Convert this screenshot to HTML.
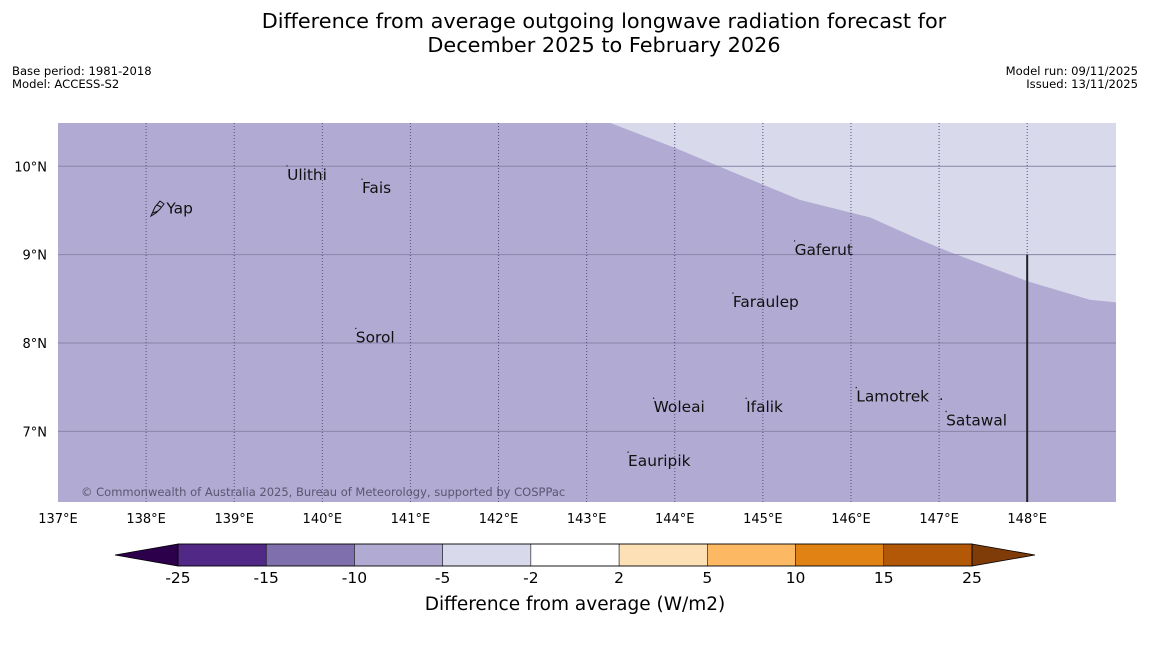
<!DOCTYPE html>
<html><head><meta charset="utf-8"><style>
body{margin:0;background:#fff;width:1150px;height:644px;overflow:hidden;font-family:"DejaVu Sans","Liberation Sans",sans-serif}
svg text{font-family:"DejaVu Sans","Liberation Sans",sans-serif}
</style></head><body>
<svg id="s" width="1150" height="644">
<text x="604" y="28" font-size="20.8" text-anchor="middle">Difference from average outgoing longwave radiation forecast for</text>
<text x="604" y="52" font-size="20.8" text-anchor="middle">December 2025 to February 2026</text>
<text x="12" y="75" font-size="11.6">Base period: 1981-2018</text>
<text x="12" y="88" font-size="11.6">Model: ACCESS-S2</text>
<text x="1138" y="75" font-size="11.6" text-anchor="end">Model run: 09/11/2025</text>
<text x="1138" y="88" font-size="11.6" text-anchor="end">Issued: 13/11/2025</text>
<g id="map"></g>
<g id="cb"></g>
</svg>
<script>
const lonTicks=[137,138,139,140,141,142,143,144,145,146,147,148];
const latTicks=[7,8,9,10];
const placeNames=["Yap","Ulithi","Fais","Gaferut","Faraulep","Sorol","Lamotrek","Woleai","Ifalik","Satawal","Eauripik"];
const placeLon=[138.23,139.6,140.45,145.36,144.66,140.38,146.06,143.76,144.81,147.08,143.47];
const placeLat=[9.5,9.88,9.73,9.03,8.44,8.04,7.37,7.25,7.25,7.1,6.64];
const boundaryLon=[143.27,144.0,144.74,145.42,146.22,146.78,147.12,148.03,148.71,149.01];
const boundaryLat=[10.49,10.21,9.9,9.62,9.42,9.17,9.03,8.69,8.49,8.46];
const cbLevels=["-25","-15","-10","-5","-2","2","5","10","15","25"];
const cbColors=["#522886","#7f6fac","#b1aad2","#d8d9eb","#ffffff","#fee0b6","#fcb863","#e08214","#b35806"];
const NS="http://www.w3.org/2000/svg";
const X0=58,X1=1116,Y0=123,Y1=502;
const lonMin=137,lonMax=149.008,latMin=6.2,latMax=10.49;
const xS=l=>X0+(l-lonMin)/(lonMax-lonMin)*(X1-X0);
const yS=l=>Y1-(l-latMin)/(latMax-latMin)*(Y1-Y0);
function mk(t,a,p){const e=document.createElementNS(NS,t);for(const k in a)e.setAttribute(k,a[k]);p.appendChild(e);return e;}
const map=document.getElementById('map');
let r=mk('rect',{x:X0,y:Y0,width:X1-X0,height:Y1-Y0,fill:'#b1aad2'},map);


let d='M'+xS(boundaryLon[0])+','+Y0;
boundaryLon.forEach((l,i)=>{d+=' L'+Math.min(X1,xS(l))+','+yS(boundaryLat[i]);});
d+=' L'+X1+','+Y0+' Z';
let pz=mk('path',{d:d,fill:'#d8d9eb'},map);


latTicks.forEach(l=>{
 const y=yS(l);
 let g=mk('line',{x1:X0,x2:X1,y1:y,y2:y,stroke:'#8a84a8','stroke-width':1},map);
 
 
 let t=mk('text',{x:47,y:y+5,'font-size':13,'text-anchor':'end'},map);t.textContent=l+'°N';
 
 
});
lonTicks.forEach(l=>{
 const x=xS(l);
 if(l>137){let g=mk('line',{x1:x,x2:x,y1:Y0,y2:Y1,stroke:'#55507a','stroke-width':1,'stroke-dasharray':'1,2'},map);
 
 }
 let t=mk('text',{x:x,y:523,'font-size':13,'text-anchor':'middle'},map);t.textContent=l+'°E';
 
 
});
let vl=mk('line',{x1:xS(148),x2:xS(148),y1:yS(9),y2:Y1,stroke:'#222','stroke-width':2},map);


placeNames.forEach((n,i)=>{
 const x=xS(placeLon[i]),y=yS(placeLat[i]);
 if(i>0){let dot=mk('circle',{cx:x,cy:y-11,r:0.7,fill:'#222'},map);
 
 }
 let t=mk('text',{x:x,y:y+3,'font-size':15.4,fill:'#111'},map);t.textContent=n;
 
 
});
let yi=mk('path',{d:'M151,216 L155,207 L160,201 L164,204 L160,209 L156,213 Z M153,213 L158,211 M157,205 L161,207',fill:'none',stroke:'#111','stroke-width':1},map);


let ld=mk('text',{x:939,y:400,'font-size':14,fill:'#111'},map);ld.textContent='.';


let cp=mk('text',{x:81,y:496,'font-size':11.5,fill:'#5a5670'},map);
cp.textContent='© Commonwealth of Australia 2025, Bureau of Meteorology, supported by COSPPac';


const cb=document.getElementById('cb');
const C0=178,C1=972,CY=544,CH=22,w=(C1-C0)/cbColors.length;
let lt=mk('path',{d:`M${C0},${CY} L115,${CY+CH/2} L${C0},${CY+CH} Z`,fill:'#2d004b',stroke:'#000','stroke-width':0.8},cb);


let rt=mk('path',{d:`M${C1},${CY} L1035,${CY+CH/2} L${C1},${CY+CH} Z`,fill:'#7f3b08',stroke:'#000','stroke-width':0.8},cb);


cbColors.forEach((c,i)=>{
 let s=mk('rect',{x:C0+i*w,y:CY,width:w,height:CH,fill:c,stroke:'#000','stroke-width':0.5},cb);
 
 
});
mk('rect',{x:C0,y:CY,width:C1-C0,height:CH,fill:'none',stroke:'#000','stroke-width':0.8},cb);
cbLevels.forEach((v,i)=>{
 let t=mk('text',{x:C0+i*w,y:583,'font-size':15.5,'text-anchor':'middle'},cb);t.textContent=v;
 
 
});
let ct=mk('text',{x:575,y:610,'font-size':18.5,'text-anchor':'middle'},cb);
ct.textContent='Difference from average (W/m2)';


</script>
</body></html>
